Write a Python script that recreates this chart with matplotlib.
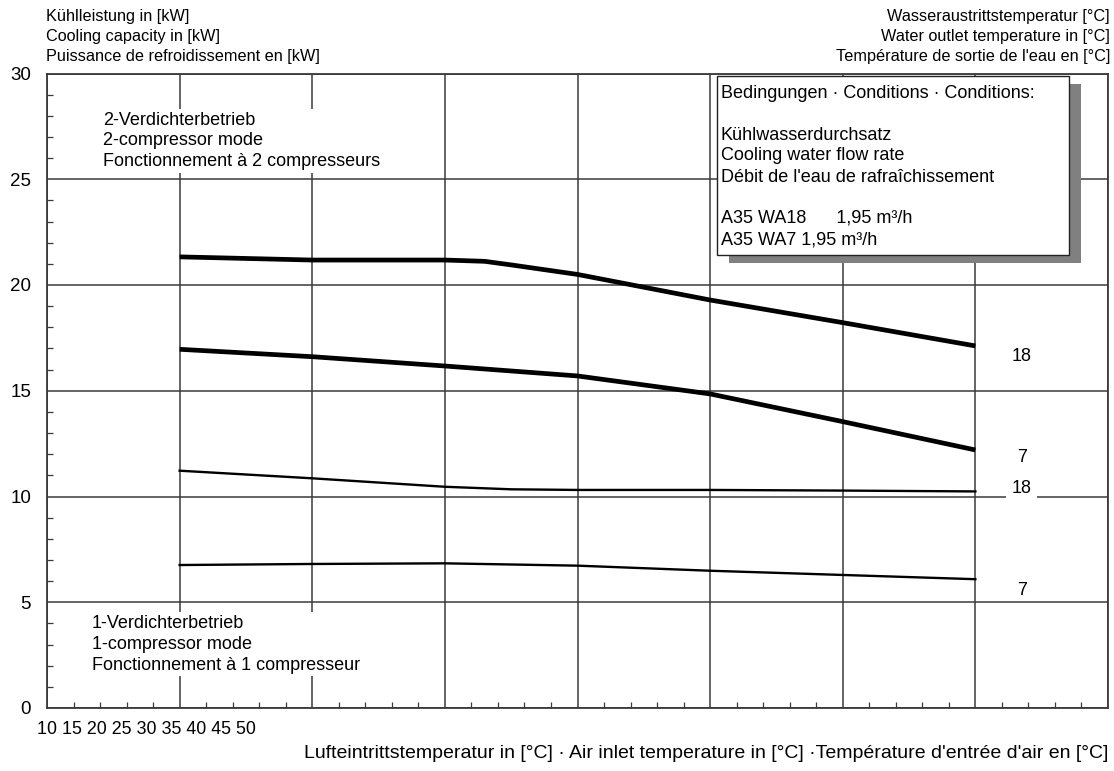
import matplotlib
matplotlib.use("Agg")
import matplotlib.pyplot as plt
from matplotlib.ticker import MultipleLocator
from matplotlib.patches import Rectangle

plt.rcParams['font.family'] = ['Liberation Sans', 'DejaVu Sans']

# ---- data ----
x_two_18 = [15, 20, 25, 26.5, 27.5, 30, 35, 40, 45]
y_two_18 = [21.33, 21.18, 21.18, 21.12, 20.95, 20.5, 19.29, 18.22, 17.12]
x_two_7 = [15, 20, 25, 30, 35, 40, 45]
y_two_7 = [16.96, 16.61, 16.17, 15.7, 14.85, 13.54, 12.2]
x_one_18 = [15, 20, 25, 27.5, 30, 35, 40, 45]
y_one_18 = [11.22, 10.86, 10.46, 10.34, 10.31, 10.31, 10.28, 10.24]
x_one_7 = [15, 20, 25, 30, 35, 40, 45]
y_one_7 = [6.76, 6.81, 6.84, 6.73, 6.49, 6.29, 6.09]
x_tick_labels = ["10", "15", "20", "25", "30", "35", "40", "45", "50"]
y_ticks = [0, 5, 10, 15, 20, 25, 30]
end_labels = ["18", "7", "18", "7"]

W, H = 1114, 771
fig = plt.figure(figsize=(W / 100, H / 100), dpi=100)

def fx(px):
    return px / W

def fy(py):
    return 1 - py / H

ax_l, ax_r, ax_t, ax_b = 47, 1108, 73.5, 708
ax = fig.add_axes([fx(ax_l), fy(ax_b), fx(ax_r) - fx(ax_l), fy(ax_t) - fy(ax_b)])
ax.set_xlim(10, 50)
ax.set_ylim(0, 30)
ax.xaxis.set_major_locator(MultipleLocator(5))
ax.xaxis.set_minor_locator(MultipleLocator(1))
ax.set_yticks(y_ticks)
ax.yaxis.set_minor_locator(MultipleLocator(1))
ax.grid(True, which='major', color='#3a3a3a', linewidth=1.1)
ax.set_axisbelow(True)
ax.tick_params(axis='x', which='both', direction='in', labelbottom=False, length=4, width=0.9, color='#3a3a3a')
ax.tick_params(axis='x', which='major', length=0)
ax.tick_params(axis='y', which='minor', direction='in', length=4, width=0.9, color='#3a3a3a')
ax.tick_params(axis='y', which='major', length=0, labelsize=13.5, pad=11.5)
for s in ax.spines.values():
    s.set_color('#3a3a3a')
    s.set_linewidth(1.3)

ax.plot(x_two_18, y_two_18, color='black', linewidth=3.4, solid_capstyle='butt', zorder=3)
ax.plot(x_two_7, y_two_7, color='black', linewidth=3.4, solid_capstyle='butt', zorder=3)
ax.plot(x_one_18, y_one_18, color='black', linewidth=1.7, zorder=3)
ax.plot(x_one_7, y_one_7, color='black', linewidth=1.7, zorder=3)

# end labels (the lower "18" sits on the 10 kW gridline, interrupting it)
ends_y = [y_two_18[-1] - 0.5, y_two_7[-1] - 0.35, y_one_18[-1] + 0.16, y_one_7[-1] - 0.55]
for i, (lab, yy) in enumerate(zip(end_labels, ends_y)):
    kw = {}
    if i == 2:
        kw['bbox'] = dict(facecolor='white', edgecolor='none', pad=4)
    ax.text(46.75, yy, lab, fontsize=13, ha='center', va='center', zorder=4, **kw)

# mode texts
ax.text(12.1, 28.2, "2-Verdichterbetrieb\n2-compressor mode\nFonctionnement à 2 compresseurs",
        fontsize=13, ha='left', va='top', linespacing=1.3, zorder=4,
        bbox=dict(facecolor='white', edgecolor='none', pad=2))
ax.text(11.7, 4.4, "1-Verdichterbetrieb\n1-compressor mode\nFonctionnement à 1 compresseur",
        fontsize=13, ha='left', va='top', linespacing=1.3, zorder=4,
        bbox=dict(facecolor='white', edgecolor='none', pad=2))

# conditions box with shadow (pixel positions)
bx0, by0, bx1, by1 = 717, 76, 1069, 255
shadow = Rectangle((fx(bx0 + 12), fy(by1 + 8)), fx(bx1 - bx0), fy(by0) - fy(by1),
                   transform=fig.transFigure, facecolor='#808080', edgecolor='none', zorder=5)
box = Rectangle((fx(bx0), fy(by1)), fx(bx1 - bx0), fy(by0) - fy(by1),
                transform=fig.transFigure, facecolor='white', edgecolor='#222222',
                linewidth=1.0, zorder=6)
fig.add_artist(shadow)
fig.add_artist(box)
box_lines = [
    ("Bedingungen · Conditions · Conditions:", 93),
    ("Kühlwasserdurchsatz", 135),
    ("Cooling water flow rate", 156),
    ("Débit de l'eau de rafraîchissement", 177),
    ("A35 WA18      1,95 m³/h", 218),
    ("A35 WA7 1,95 m³/h", 240),
]
for t, py in box_lines:
    fig.text(fx(721), fy(py), t, fontsize=13, ha='left', va='center', zorder=7)

# header texts
for t, py in [("Kühlleistung in [kW]", 17), ("Cooling capacity in [kW]", 37),
              ("Puissance de refroidissement en [kW]", 57)]:
    fig.text(fx(46), fy(py), t, fontsize=11.7, ha='left', va='center')
for t, py in [("Wasseraustrittstemperatur [°C]", 17), ("Water outlet temperature in [°C]", 37),
              ("Température de sortie de l'eau en [°C]", 57)]:
    fig.text(fx(1110), fy(py), t, fontsize=11.7, ha='right', va='center')

# x tick label string and x label
fig.text(fx(37), fy(730), " ".join(x_tick_labels), fontsize=12.9, ha='left', va='center')
fig.text(fx(1108), fy(754), "Lufteintrittstemperatur in [°C] · Air inlet temperature in [°C] ·Température d'entrée d'air en [°C]",
         fontsize=14, ha='right', va='center')

fig.savefig("out.png", dpi=100)
